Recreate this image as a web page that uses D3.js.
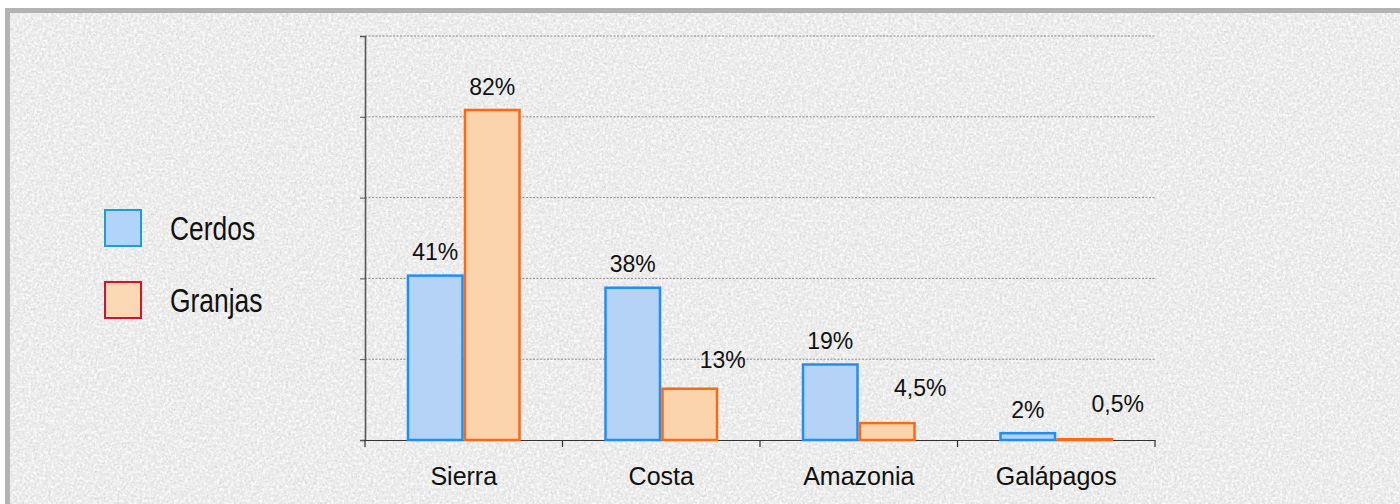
<!DOCTYPE html>
<html>
<head>
<meta charset="utf-8">
<script src="https://cdn.jsdelivr.net/npm/d3@7"></script>
<style>
    body { margin: 0; background: #ffffff; }
    svg { display: block; }
</style>
</head>
<body>
<div id="chart"></div>
<script>
// --- data ---
let regions = ["Sierra", "Costa", "Amazonia", "Galápagos"];
let cerdos = [41, 38, 19, 2];
let granjas = [82, 13, 4.5, 0.5];
let cerdosLabels = ["41%", "38%", "19%", "2%"];
let granjasLabels = ["82%", "13%", "4,5%", "0,5%"];
let seriesNames = ["Cerdos", "Granjas"];
let yTicks = [0, 20, 40, 60, 80, 100];

let wSvg = 1400, hSvg = 504;

let svg = d3.select("#chart").append("svg")
    .attr("width", wSvg).attr("height", hSvg);

// noise texture for the background
let defs = svg.append("defs");
let noise = defs.append("filter").attr("id", "noise")
    .attr("x", 0).attr("y", 0).attr("width", "100%").attr("height", "100%");
noise.append("feTurbulence")
    .attr("type", "fractalNoise")
    .attr("baseFrequency", 0.45)
    .attr("numOctaves", 2)
    .attr("seed", 4)
    .attr("result", "t");
noise.append("feColorMatrix")
    .attr("in", "t")
    .attr("type", "matrix")
    .attr("values", "0 0 0 0 0.6  0 0 0 0 0.6  0 0 0 0 0.6  0 0 0 -2.6 1.5");
let flecks = defs.append("filter").attr("id", "flecks")
    .attr("x", 0).attr("y", 0).attr("width", "100%").attr("height", "100%");
flecks.append("feTurbulence")
    .attr("type", "fractalNoise")
    .attr("baseFrequency", 0.35)
    .attr("numOctaves", 2)
    .attr("seed", 11)
    .attr("result", "t");
flecks.append("feColorMatrix")
    .attr("in", "t")
    .attr("type", "matrix")
    .attr("values", "0 0 0 0 1  0 0 0 0 1  0 0 0 0 1  0 0 0 3 -1.3");

// frame
svg.append("rect")
    .attr("x", 5).attr("y", 8).attr("width", wSvg - 5).attr("height", hSvg - 8)
    .attr("fill", "#b3b3b3");
svg.append("rect")
    .attr("x", 10).attr("y", 13).attr("width", wSvg - 10).attr("height", hSvg - 13)
    .attr("fill", "#ececec");
svg.append("rect")
    .attr("x", 10).attr("y", 13).attr("width", wSvg - 10).attr("height", hSvg - 13)
    .attr("filter", "url(#noise)")
    .attr("opacity", 0.55);
svg.append("rect")
    .attr("x", 10).attr("y", 13).attr("width", wSvg - 10).attr("height", hSvg - 13)
    .attr("filter", "url(#flecks)")
    .attr("opacity", 0.8);

// scales
let plotLeft = 365, plotRight = 1155, plotTop = 36, plotBottom = 440;

let xScale = d3.scaleBand()
    .domain(regions)
    .range([plotLeft, plotRight]);

let xInner = d3.scaleBand()
    .domain(seriesNames)
    .range([0, 114]);

let yScale = d3.scaleLinear()
    .domain([0, 100])
    .range([plotBottom, plotTop]);

// gridlines
svg.append("g")
    .selectAll("line")
    .data(yTicks.slice(1))
    .enter()
    .append("line")
    .attr("x1", plotLeft).attr("x2", plotRight)
    .attr("y1", d => yScale(d)).attr("y2", d => yScale(d))
    .attr("stroke", "#8a8a8a")
    .attr("stroke-width", 1)
    .attr("stroke-dasharray", "2,1.5");

// y axis
let yAxis = svg.append("g")
    .attr("transform", `translate(${plotLeft},0)`)
    .call(d3.axisLeft(yScale).tickValues(yTicks).tickSize(5).tickFormat(""));
yAxis.select(".domain").attr("stroke", "#555").attr("stroke-width", 1.6);
yAxis.selectAll(".tick line").attr("stroke", "#555");

// x axis
let xAxis = svg.append("g")
    .attr("transform", `translate(0,${plotBottom})`)
    .call(d3.axisBottom(xScale).tickSize(0).tickPadding(27));
xAxis.select(".domain").attr("stroke", "#333").attr("stroke-width", 1.2);
xAxis.selectAll("text")
    .attr("font-family", "Liberation Sans, Arial, sans-serif")
    .attr("font-size", 25)
    .attr("fill", "#111");

// tick marks between categories
let bounds = regions.map(r => xScale(r)).concat([plotRight]);
svg.append("g")
    .selectAll("line")
    .data(bounds)
    .enter()
    .append("line")
    .attr("x1", d => d).attr("x2", d => d)
    .attr("y1", plotBottom).attr("y2", plotBottom + 7)
    .attr("stroke", "#333")
    .attr("stroke-width", 1.2);

// bars
let barData = [];
regions.forEach((r, i) => {
    barData.push({ region: r, series: "Cerdos", value: cerdos[i], label: cerdosLabels[i] });
    barData.push({ region: r, series: "Granjas", value: granjas[i], label: granjasLabels[i] });
});

let fills = { "Cerdos": "#b4d3f7", "Granjas": "#fbd4ae" };
let strokes = { "Cerdos": "#1f8efa", "Granjas": "#fb6a10" };

function barX(d) {
    return xScale(d.region) + (xScale.bandwidth() - 114) / 2 + xInner(d.series);
}

svg.append("g")
    .selectAll("rect")
    .data(barData)
    .enter()
    .append("rect")
    .attr("x", d => barX(d) + 1.25)
    .attr("y", d => yScale(d.value) + 1.25)
    .attr("width", xInner.bandwidth() - 2.5)
    .attr("height", d => Math.max(0.5, plotBottom - yScale(d.value) - 1.25))
    .attr("fill", d => fills[d.series])
    .attr("stroke", d => strokes[d.series])
    .attr("stroke-width", 2.5);

// value labels, small orange ones pushed up and to the right
svg.append("g")
    .selectAll("text")
    .data(barData)
    .enter()
    .append("text")
    .attr("x", d => {
        let cx = barX(d) + xInner.bandwidth() / 2;
        if (d.series === "Granjas" && d.value < 15) cx += 33;
        return cx;
    })
    .attr("y", d => {
        let y = yScale(d.value) - 14;
        if (d.series === "Granjas" && d.value < 15) y -= (d.value < 10 ? 12 : 5);
        return y;
    })
    .attr("text-anchor", "middle")
    .attr("font-family", "Liberation Sans, Arial, sans-serif")
    .attr("font-size", 23)
    .attr("fill", "#111")
    .text(d => d.label);

// legend
let legendFill = ["#b3d4fa", "#fbd8b3"];
let legendStroke = ["#1b9ed6", "#d3132c"];

let legend = svg.append("g")
    .selectAll("g")
    .data(seriesNames)
    .enter()
    .append("g")
    .attr("transform", (d, i) => `translate(105,${210 + i * 72})`);

legend.append("rect")
    .attr("width", 36).attr("height", 36)
    .attr("fill", (d, i) => legendFill[i])
    .attr("stroke", (d, i) => legendStroke[i])
    .attr("stroke-width", 2);

// narrow legend text
legend.append("text")
    .attr("transform", "translate(65,30) scale(0.8,1)")
    .attr("font-family", "Liberation Sans, Arial, sans-serif")
    .attr("font-size", 33)
    .attr("fill", "#111")
    .text(d => d);
</script>
</body>
</html>
